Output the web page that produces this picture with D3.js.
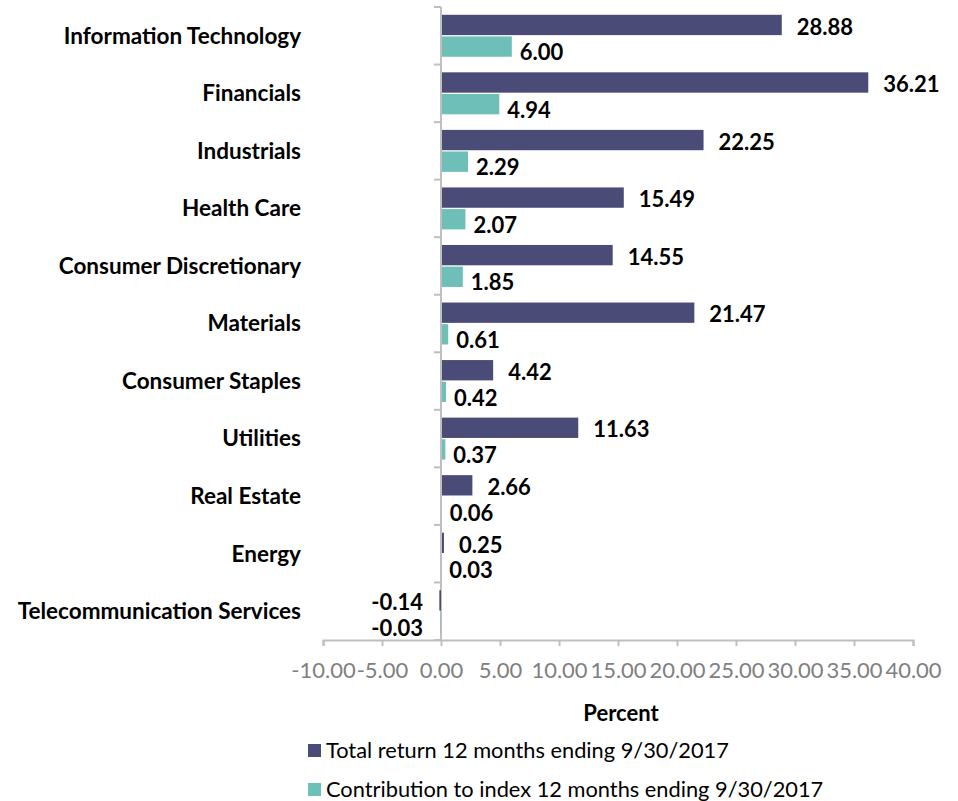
<!DOCTYPE html>
<html><head><meta charset="utf-8">
<script src="https://cdn.jsdelivr.net/npm/d3@7"></script>
<style>body{margin:0;background:#fff;} svg{display:block;}</style>
</head><body>
<script>
const categories = ["Information Technology","Financials","Industrials","Health Care","Consumer Discretionary","Materials","Consumer Staples","Utilities","Real Estate","Energy","Telecommunication Services"];
const totalReturn = [28.88,36.21,22.25,15.49,14.55,21.47,4.42,11.63,2.66,0.25,-0.14];
const contribution = [6.00,4.94,2.29,2.07,1.85,0.61,0.42,0.37,0.06,0.03,-0.03];
const seriesNames = ["Total return 12 months ending 9/30/2017","Contribution to index 12 months ending 9/30/2017"];
const xTicks = [-10,-5,0,5,10,15,20,25,30,35,40];
const axisTitle = "Percent";

const W=958,H=801;
const font="Lato, 'Open Sans', sans-serif";
const colors=["#4b4b78","#6dbfb8"];
const fmt=d=>d3.format(".2f")(d).replace("\u2212","-");
const svg=d3.select("body").append("svg").attr("width",W).attr("height",H);

const x=d3.scaleLinear().domain([-10,40]).range([323,913]);
const y=d3.scaleBand().domain(categories).range([7,640]).padding(0);
const ys=d3.scaleBand().domain([0,1]).range([0,y.bandwidth()]).paddingInner(0.06).paddingOuter(0.36);

const axisColor="#bfbfbf";
const xAxis=d3.axisBottom(x).tickValues(xTicks).tickSize(6).tickFormat(fmt);
const gx=svg.append("g").attr("transform","translate(0,640)").call(xAxis);
gx.select(".domain").attr("stroke",axisColor).attr("stroke-width",2);
gx.selectAll(".tick line").attr("stroke",axisColor).attr("stroke-width",2);
gx.selectAll(".tick text").attr("fill","#808080").attr("font-family",font).attr("font-size",22).attr("dy","0").attr("y",38);

const yBounds=categories.map(c=>y(c)).concat([y.range()[1]]);
svg.append("line").attr("x1",x(0)).attr("x2",x(0)).attr("y1",y.range()[0]).attr("y2",y.range()[1]).attr("stroke",axisColor).attr("stroke-width",2);
svg.selectAll(".ytick").data(yBounds).join("line").attr("x1",x(0)-7).attr("x2",x(0)).attr("y1",d=>d).attr("y2",d=>d).attr("stroke",axisColor).attr("stroke-width",2);

const series=[totalReturn,contribution];
series.forEach((vals,si)=>{
  svg.append("g").selectAll("rect").data(vals).join("rect")
    .attr("x",d=>x(Math.min(0,d))+(d>=0?1:0))
    .attr("width",d=>Math.max(0,Math.abs(x(d)-x(0))-(d>=0?1:0)))
    .attr("y",(d,i)=>y(categories[i])+ys(si))
    .attr("height",ys.bandwidth())
    .attr("fill",colors[si]);
  svg.append("g").selectAll("text").data(vals).join("text")
    .attr("x",d=> d>=0 ? x(d)+(si===0?15:8) : x(0)-18)
    .attr("y",(d,i)=>y(categories[i])+ys(si)+ys.bandwidth()/2+(si===0?2:6))
    .attr("dy","0.35em")
    .attr("text-anchor",d=>d>=0?"start":"end")
    .attr("font-family",font).attr("font-weight","bold").attr("font-size",22).attr("fill","#000")
    .text(fmt);
});

svg.append("g").selectAll("text").data(categories).join("text")
  .attr("x",301).attr("y",d=>y(d)+y.bandwidth()/2).attr("dy","0.35em")
  .attr("text-anchor","end").attr("font-family",font).attr("font-weight","bold").attr("font-size",22.5).attr("fill","#000")
  .text(d=>d);

svg.append("text").attr("x",621).attr("y",713).attr("dy","0.35em").attr("text-anchor","middle")
  .attr("font-family",font).attr("font-weight","bold").attr("font-size",22).text(axisTitle);

seriesNames.forEach((n,i)=>{
  const cy=750+i*39;
  svg.append("rect").attr("x",308).attr("y",cy-6).attr("width",13).attr("height",13).attr("fill",colors[i]);
  svg.append("text").attr("x",326).attr("y",cy).attr("dy","0.35em").attr("font-family",font).attr("font-size",21.8).attr("fill","#000").text(n);
});
</script>
</body></html>
